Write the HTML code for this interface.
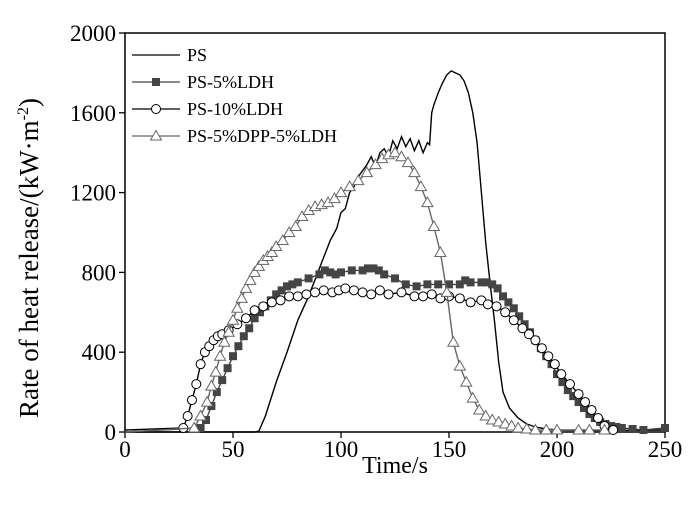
<!DOCTYPE html>
<html><head><meta charset="utf-8"><style>
body{margin:0;background:#fff}
svg{font-family:"Liberation Serif",serif}
</style></head><body>
<svg id="c" width="700" height="506" viewBox="0 0 700 506"></svg>
<script>
const xTicks=[0,50,100,150,200,250];
const yTicks=[0,400,800,1200,1600,2000];
const psT=[0,60,62,65,70,75,80,85,90,95,98,100,102,104,106,108,110,112,114,116,118,120,122,124,126,128,130,132,134,136,138,140,141,142,143,145,147,149,151,153,155,157,159,161,163,165,167,169,171,173,175,178,182,186,190,195,200,210,230,250];
const psV=[0,0,5,80,250,400,560,680,820,960,1020,1100,1120,1200,1230,1280,1310,1340,1380,1330,1400,1420,1380,1460,1420,1480,1430,1470,1410,1460,1400,1450,1440,1600,1640,1700,1750,1790,1810,1800,1790,1760,1700,1600,1450,1200,950,750,560,350,200,120,70,40,25,15,10,8,8,10];
const sqT=[0,35,37.5,40,42.5,45,47.5,50,52.5,55,57.5,60,62.5,65,67.5,70,72.5,75,77.5,80,85,90,92.5,95,97.5,100,105,110,112.5,115,117.5,120,125,130,135,140,145,150,155,157.5,160,165,167.5,170,172.5,175,177.5,180,182.5,185,187.5,190,192.5,195,197.5,200,202.5,205,207.5,210,212.5,215,217.5,220,222.5,225,227.5,230,235,240,250];
const sqV=[0,20,60,130,200,260,320,380,430,480,520,570,600,630,660,690,710,730,740,750,770,790,810,800,790,800,810,810,820,820,810,790,770,740,730,740,740,740,740,760,750,750,750,740,720,680,650,620,580,540,500,460,420,380,340,290,250,210,180,150,120,90,70,50,40,30,25,20,15,10,20];
const ciT=[0,27,29,31,33,35,37,39,41,43,45,48,52,56,60,64,68,72,76,80,84,88,92,96,99,102,106,110,114,118,122,128,134,138,142,146,150,155,160,165,168,172,176,180,184,187,190,193,196,199,202,206,210,213,216,219,222,226];
const ciV=[10,20,80,160,240,340,400,430,460,480,490,510,540,570,610,630,650,660,680,680,690,700,710,700,710,720,710,700,690,710,690,700,680,680,690,670,680,670,650,660,640,630,600,560,520,490,460,420,380,340,290,240,190,150,110,70,30,10];
const trT=[0,32,35,38,40,42,44,46,48,50,52,54,56,58,60,62,64,66,68,70,73,76,79,82,85,88,91,94,97,100,104,108,112,116,119,122,125,128,131,134,137,140,143,146,149,152,155,158,161,164,167,170,173,176,179,182,186,190,195,200,210,215,222];
const trV=[0,20,80,150,230,300,380,450,500,560,620,670,720,760,800,830,860,880,900,930,960,1000,1030,1080,1110,1130,1140,1150,1170,1200,1230,1260,1300,1340,1370,1390,1400,1380,1350,1300,1230,1150,1030,900,700,450,330,250,170,110,80,60,50,40,30,20,15,10,10,10,10,10,10];
const L=125,R=665,T=33,B=432;
const xs=v=>L+(v-0)/250*(R-L);
const ys=v=>B-v/2000*(B-T);
const svg=document.getElementById('c');
const NS='http://www.w3.org/2000/svg';
function mk(tag,attrs,parent){const e=document.createElementNS(NS,tag);for(const k in attrs)e.setAttribute(k,attrs[k]);(parent||svg).appendChild(e);return e;}
const fr=mk('rect',{x:L,y:T,width:R-L,height:B-T,fill:'none',stroke:'#000','stroke-width':1.5});


xTicks.forEach(t=>{
  const l=mk('line',{x1:xs(t),x2:xs(t),y1:B,y2:B+6,stroke:'#000','stroke-width':1.3});
  
  
  const tx=mk('text',{x:xs(t),y:B+25,'text-anchor':'middle','font-size':23});
  tx.textContent=t;
  
  
});
yTicks.forEach(t=>{
  const l=mk('line',{x1:L,x2:L-6,y1:ys(t),y2:ys(t),stroke:'#000','stroke-width':1.3});
  
  
  const tx=mk('text',{x:L-9,y:ys(t)+8,'text-anchor':'end','font-size':23});
  tx.textContent=t;
  
  
});
const xl=mk('text',{x:(L+R)/2,y:473,'text-anchor':'middle','font-size':24});
xl.textContent='Time/s';


const yl=mk('text',{x:0,y:0,'text-anchor':'middle','font-size':27,transform:'translate(38,258) rotate(-90)'});
yl.innerHTML='Rate of heat release/(kW·m<tspan dy="-10" font-size="16">-2</tspan><tspan dy="10">)</tspan>';


function series(tx,vx,color,name,marker){
  const g=mk('g',{});
  
  
  const d=tx.map((t,i)=>(i?'L':'M')+xs(t).toFixed(1)+' '+ys(vx[i]).toFixed(1)).join('');
  mk('path',{d:d,fill:'none',stroke:color,'stroke-width':1.4},g);
  if(marker) tx.forEach((t,i)=>{if(i>0||t>0)marker(g,xs(t),ys(vx[i]));});
}
const sq=(g,x,y)=>mk('rect',{x:x-4,y:y-4,width:8,height:8,fill:'#444'},g);
const ci=(g,x,y)=>mk('circle',{cx:x,cy:y,r:4.5,fill:'#fff',stroke:'#000','stroke-width':1},g);
const tr=(g,x,y)=>mk('path',{d:`M${x} ${y-5.5}L${x+5.5} ${y+4}L${x-5.5} ${y+4}Z`,fill:'#fff',stroke:'#666','stroke-width':1},g);
series(psT,psV,'#000','series-ps',null);
series(sqT,sqV,'#444','series-ps-5ldh',sq);
series(ciT,ciV,'#000','series-ps-10ldh',ci);
series(trT,trV,'#666','series-ps-dpp-ldh',tr);
const leg=[['PS','#000',null],['PS-5%LDH','#444',sq],['PS-10%LDH','#000',ci],['PS-5%DPP-5%LDH','#666',tr]];
const ly=[55,82,109,136];
leg.forEach((e,i)=>{
  const g=mk('g',{});
  
  
  mk('line',{x1:132,x2:180,y1:ly[i],y2:ly[i],stroke:e[1],'stroke-width':1.3},g);
  if(e[2])e[2](g,156,ly[i]);
  const t=mk('text',{x:187,y:ly[i]+6,'font-size':18},g);
  t.textContent=e[0];
});
</script>
</body></html>
